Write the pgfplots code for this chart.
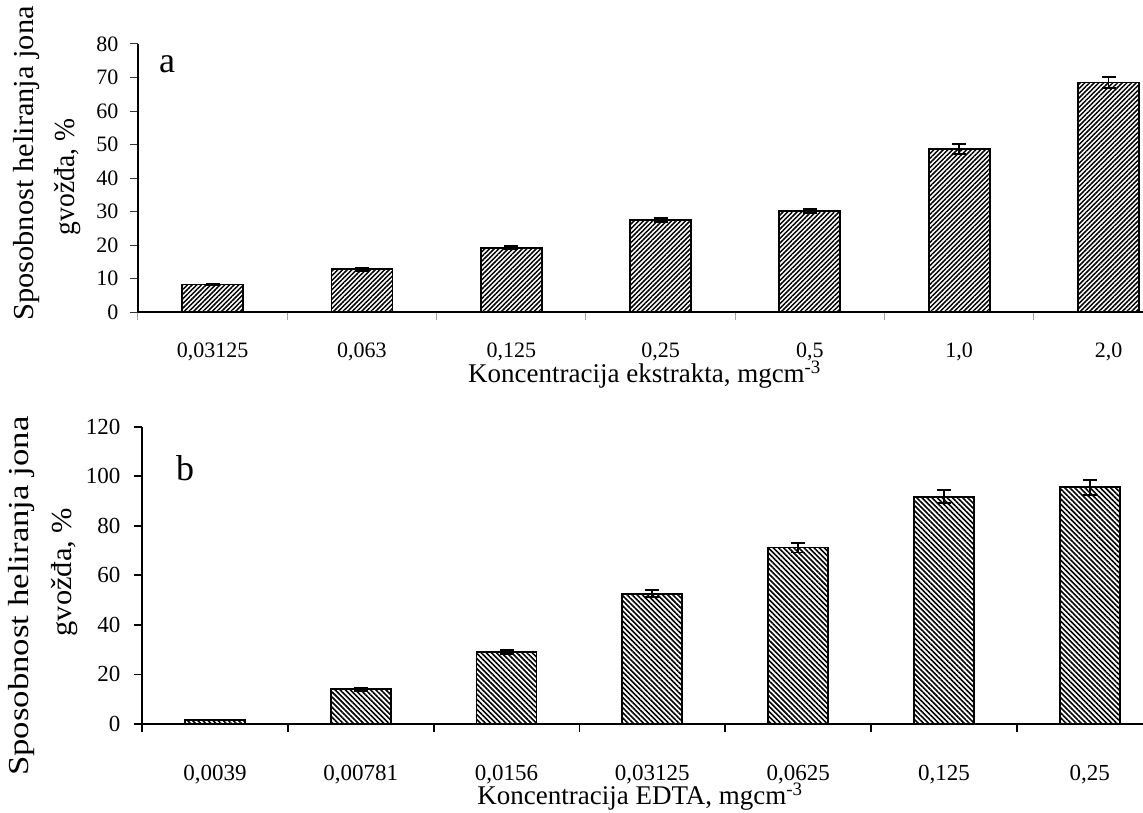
\documentclass[border=0pt]{standalone}
\usepackage{fontspec}
\setmainfont{Liberation Serif}
\usepackage{graphicx}
\usepackage{pgfplots}
\usepackage{pgfplotstable}
\pgfplotsset{compat=1.18}
\usetikzlibrary{patterns.meta}

\pgfplotstableread{
x y e
0 8.3 0.3
1 12.8 0.4
2 19.2 0.5
3 27.5 0.5
4 30.3 0.6
5 48.7 1.4
6 68.5 1.7
}\topdata

\pgfplotstableread{
x y e
0 1.6 0.2
1 14.0 0.6
2 29.2 0.8
3 52.6 1.5
4 71.2 2.0
5 91.7 2.6
6 95.5 3.0
}\botdata

\pgfplotsset{
  common/.style={
    scale only axis,
    anchor=south west,
    axis x line*=bottom,
    axis y line*=left,
    axis line style={line width=1.8pt, black},
    ymin=0,
    xmin=-0.5,
    xtick={0,...,6},
    minor xtick={-0.5,0.5,...,5.5},
    tick align=outside,
    major tick length=8pt,
    minor tick length=8pt,
    major x tick style={draw=none},
    /pgf/number format/assume math mode=true,
    clip=false,
    xlabel style={font=\fontsize{27}{30}\selectfont, anchor=base, inner sep=0pt},
  },
}
\tikzset{ylab/.style={rotate=90, anchor=center, inner sep=0pt, font=\fontsize{29}{34}\selectfont}}

\begin{document}
\begin{tikzpicture}[x=1pt,y=1pt]
\useasboundingbox (0,0) rectangle (1143,813);

% ---------- top panel (a) ----------
\begin{axis}[common,
  at={(138pt,500.7pt)},
  width=1005pt, height=268.3pt,
  xmax=6.231, ymax=80,
  ytick={0,10,...,80},
  xticklabels={{0,03125},{0,063},{0,125},{0,25},{0,5},{1,0},{2,0}},
  minor x tick style={line width=1pt, black!35},
  major y tick style={line width=1pt, black!80},
  ticklabel style={font=\fontsize{22}{24}\selectfont},
  yticklabel style={xshift=-8pt},
  xticklabel style={yshift=-19pt},
  xlabel={Koncentracija ekstrakta, mgcm\textsuperscript{-3}},
  xlabel style={at={(axis description cs:0.504,0)}, yshift=-70.4pt},
]
\addplot[ybar, bar width=61pt, draw=black, line width=1.8pt,
  pattern={Lines[angle=45,distance=3.3pt,line width=1.5pt]},
  error bars/.cd, y dir=both, y explicit,
  error bar style={line width=1.8pt, black},
  error mark options={rotate=90, mark size=7pt, line width=1.8pt, black}]
  table[x=x, y=y, y error=e] {\topdata};
\node[anchor=base west, inner sep=0pt, font=\fontsize{36}{36}\selectfont]
  at (axis description cs:0.0209,0.8956) {a};
\node[ylab] at (axis description cs:-0.1114,0.555)
  {\scalebox{1.05}[1]{Sposobnost heliranja jona}};
\node[ylab] at (axis description cs:-0.0697,0.5043)
  {\scalebox{0.95}[1]{gvožđa, \%}};
\end{axis}

% ---------- bottom panel (b) ----------
\begin{axis}[common,
  at={(142pt,89pt)},
  width=1001pt, height=297.3pt,
  xmax=6.365, ymax=120,
  ytick={0,20,...,120},
  xticklabels={{0,0039},{0,00781},{0,0156},{0,03125},{0,0625},{0,125},{0,25}},
  minor x tick style={line width=1.8pt, black},
  major y tick style={line width=1.8pt, black},
  ticklabel style={font=\fontsize{23}{25}\selectfont},
  yticklabel style={xshift=-10pt},
  xticklabel style={yshift=-30pt},
  xlabel={Koncentracija EDTA, mgcm\textsuperscript{-3}},
  xlabel style={at={(axis description cs:0.4975,0)}, yshift=-81pt},
]
\addplot[ybar, bar width=60pt, draw=black, line width=1.8pt,
  pattern={Lines[angle=-45,distance=3.6pt,line width=1.6pt]},
  error bars/.cd, y dir=both, y explicit,
  error bar style={line width=1.8pt, black},
  error mark options={rotate=90, mark size=7pt, line width=1.8pt, black}]
  table[x=x, y=y, y error=e] {\botdata};
\node[anchor=base west, inner sep=0pt, font=\fontsize{36}{36}\selectfont]
  at (axis description cs:0.034,0.8207) {b};
\node[ylab] at (axis description cs:-0.1199,0.43)
  {\scalebox{1.2}[1]{Sposobnost heliranja jona}};
\node[ylab] at (axis description cs:-0.0769,0.5113)
  {\scalebox{1.05}[1]{gvožđa, \%}};
\end{axis}
\end{tikzpicture}
\end{document}
